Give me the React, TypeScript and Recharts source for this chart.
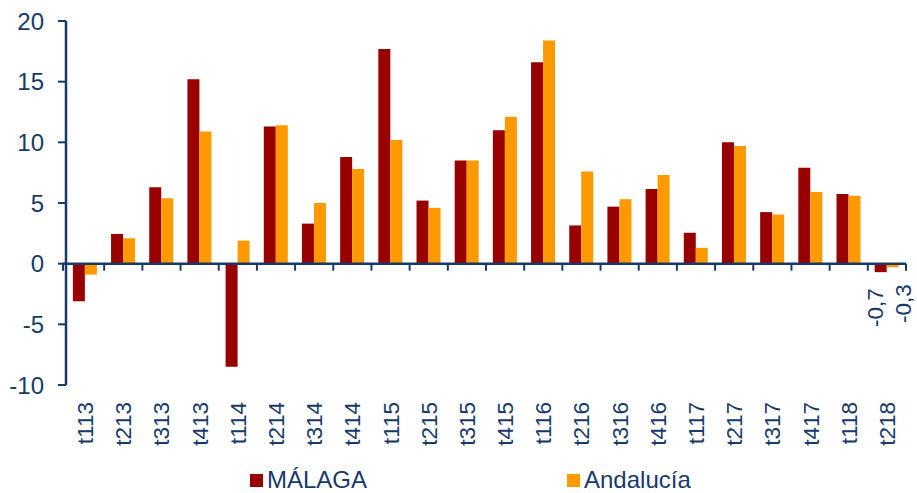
import React from 'react';
import { BarChart, Bar, XAxis, YAxis, ReferenceLine, Legend, LabelList } from 'recharts';

const quarters = ['t113', 't213', 't313', 't413', 't114', 't214', 't314', 't414', 't115', 't215', 't315', 't415', 't116', 't216', 't316', 't416', 't117', 't217', 't317', 't417', 't118', 't218'];
const malaga = [-3.1, 2.45, 6.3, 15.2, -8.5, 11.3, 3.3, 8.8, 17.7, 5.2, 8.5, 11.0, 16.6, 3.15, 4.7, 6.15, 2.55, 10.0, 4.25, 7.9, 5.75, -0.7];
const andalucia = [-0.9, 2.1, 5.4, 10.9, 1.9, 11.4, 5.0, 7.8, 10.2, 4.6, 8.5, 12.1, 18.4, 7.6, 5.3, 7.3, 1.3, 9.7, 4.05, 5.9, 5.6, -0.3];
const yTicks = [-10, -5, 0, 5, 10, 15, 20];

const data = quarters.map((q, i) => ({ q, malaga: malaga[i], andalucia: andalucia[i] }));

const NAVY = '#173a6a';
const RED = '#990000';
const ORANGE = '#ff9900';
const FONT = '"Liberation Sans", Arial, sans-serif';

const XTick = (props: any) => {
  const { x, y, payload } = props;
  const ty = y + 15;
  return (
    <text x={x + 8} y={ty} transform={`rotate(-90, ${x + 8}, ${ty})`} textAnchor="end" fill={NAVY} fontSize={22.5} fontFamily={FONT}>
      {payload.value}
    </text>
  );
};

// zero line with the category boundary ticks hanging below it
const ZeroLine = (props: any) => {
  const { x1, y1, x2 } = props;
  const step = (x2 - x1) / quarters.length;
  return (
    <g>
      <line x1={x1 - 3} y1={y1} x2={x2} y2={y1} stroke={NAVY} strokeWidth={2.5} />
      {quarters.map((_, i) => (
        <line key={i} x1={x1 + step * (i + 1)} y1={y1} x2={x1 + step * (i + 1)} y2={y1 + 7} stroke={NAVY} strokeWidth={2} />
      ))}
      <line x1={x1 - 3} y1={y1} x2={x1 - 3} y2={y1 + 7} stroke={NAVY} strokeWidth={2} />
    </g>
  );
};

const makeLabel = (dx: number, dy: number) => (props: any) => {
  const { x, y, width, height, value, index } = props;
  if (index !== quarters.length - 1) return null;
  const bottom = Math.max(y, y + height) + dy;
  const cx = x + width / 2 + dx;
  return (
    <text x={cx} y={bottom} transform={`rotate(-90, ${cx}, ${bottom})`} textAnchor="end" fill={NAVY} fontSize={22.5} fontFamily={FONT}>
      {String(value).replace('.', ',')}
    </text>
  );
};

const LegendBox = () => (
  <div style={{ height: 30, position: 'relative', fontFamily: FONT, fontSize: 24, lineHeight: '24px', color: NAVY }}>
    {[
      { name: 'MÁLAGA', color: RED, left: 250 },
      { name: 'Andalucía', color: ORANGE, left: 567 },
    ].map((it) => (
      <div key={it.name} style={{ position: 'absolute', left: it.left, top: 5, display: 'flex', alignItems: 'center', height: 24 }}>
        <span style={{ width: 13, height: 13, background: it.color, display: 'inline-block', marginRight: 4 }} />
        <span>{it.name}</span>
      </div>
    ))}
  </div>
);

export default function App() {
  return (
    <div style={{ position: 'absolute', left: 0, top: 0, width: 917, height: 493, background: '#fff' }}>
      <BarChart width={917} height={493} data={data} margin={{ top: 21, right: 11, left: 0, bottom: 0 }} barCategoryGap="18%" barGap={0}>
        <XAxis dataKey="q" height={78} axisLine={false} tickLine={false} tickSize={0} tick={<XTick />} interval={0} />
        <YAxis
          domain={[-10, 20]}
          ticks={yTicks}
          width={66}
          axisLine={{ stroke: NAVY, strokeWidth: 2.5 }}
          tickLine={{ stroke: NAVY, strokeWidth: 2 }}
          tickSize={8}
          tickMargin={14}
          tick={{ fill: NAVY, fontSize: 24, fontFamily: FONT }}
        />
        <Bar dataKey="malaga" name="MÁLAGA" fill={RED} isAnimationActive={false}>
          <LabelList dataKey="malaga" content={makeLabel(2, 16)} />
        </Bar>
        <Bar dataKey="andalucia" name="Andalucía" fill={ORANGE} isAnimationActive={false}>
          <LabelList dataKey="andalucia" content={makeLabel(18, 17)} />
        </Bar>
        <ReferenceLine y={0} shape={<ZeroLine />} />
        <Legend verticalAlign="bottom" content={<LegendBox />} wrapperStyle={{ left: 0, width: 917 }} />
      </BarChart>
    </div>
  );
}
